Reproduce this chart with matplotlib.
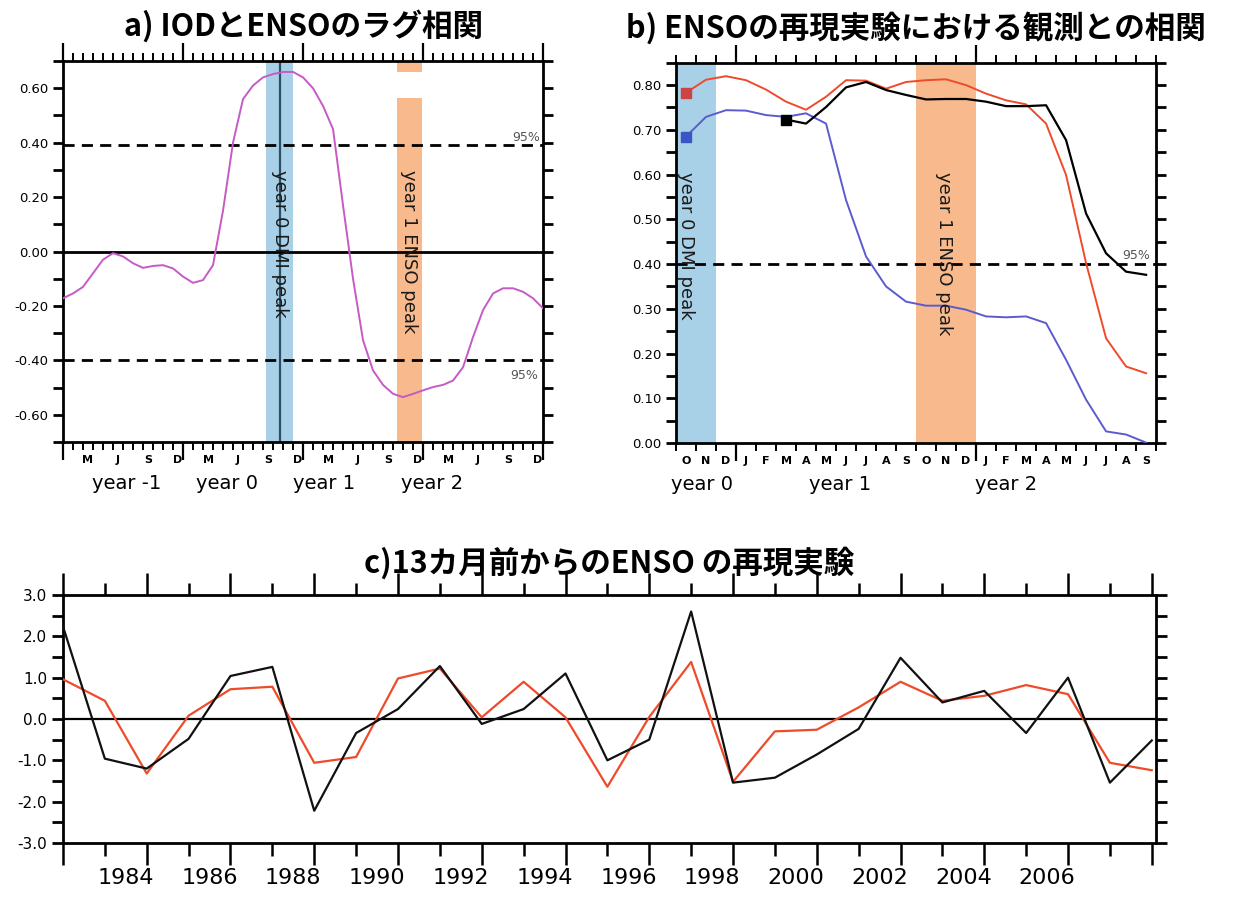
import matplotlib
matplotlib.use('Agg')
import matplotlib.pyplot as plt
from matplotlib.ticker import MultipleLocator, FixedLocator, FormatStrFormatter
from matplotlib.transforms import blended_transform_factory

plt.rcParams['font.family'] = ['DejaVu Sans']
JP = ['Noto Sans CJK JP', 'DejaVu Sans']

# ---------------- data ----------------
# Panel a: lag correlation IOD vs ENSO, monthly (Jan year -1 .. Dec year 2)
lag_month = list(range(49))
iod_enso_corr = [-0.172, -0.154, -0.13, -0.08, -0.03, -0.006, -0.018, -0.043, -0.06, -0.053,
                 -0.05, -0.062, -0.092, -0.115, -0.105, -0.05, 0.15, 0.40, 0.56, 0.61,
                 0.64, 0.652, 0.66, 0.66, 0.64, 0.60, 0.535, 0.45, 0.17, -0.10,
                 -0.326, -0.437, -0.49, -0.523, -0.535, -0.523, -0.51, -0.498, -0.49, -0.474,
                 -0.425, -0.314, -0.215, -0.154, -0.135, -0.135, -0.148, -0.172, -0.209]
a_sig_upper = 0.39
a_sig_lower = -0.40
a_month_labels = ['M', 'J', 'S', 'D'] * 4
a_year_labels = ['year -1', 'year 0', 'year 1', 'year 2']

# Panel b: correlation with observations (Oct year 0 .. Sep year 2)
b_month_labels = list('ONDJFMAMJJASONDJFMAMJJAS')
b_lead = [k + 0.5 for k in range(24)]
corr_red = [0.783, 0.812, 0.820, 0.811, 0.790, 0.763, 0.745, 0.774, 0.811, 0.810,
            0.792, 0.807, 0.811, 0.813, 0.800, 0.781, 0.766, 0.757, 0.714, 0.599,
            0.402, 0.234, 0.171, 0.156]
corr_blue = [0.685, 0.729, 0.744, 0.743, 0.733, 0.729, 0.737, 0.714, 0.543, 0.417,
             0.350, 0.316, 0.307, 0.307, 0.298, 0.283, 0.281, 0.283, 0.268, 0.186,
             0.097, 0.026, 0.019, 0.001]
corr_black = [None] * 5 + [0.723, 0.714, 0.751, 0.795, 0.807, 0.789, 0.778, 0.768, 0.769,
                           0.769, 0.763, 0.753, 0.753, 0.755, 0.677, 0.513, 0.424, 0.383, 0.376]
b_sig = 0.40
b_year_labels = ['year 0', 'year 1', 'year 2']

# Panel c: ENSO hindcast from 13 months before
years = list(range(1982, 2009))
obs_enso = [2.24, -0.96, -1.20, -0.48, 1.04, 1.26, -2.22, -0.34, 0.24, 1.28,
            -0.12, 0.24, 1.10, -1.00, -0.50, 2.60, -1.54, -1.42, -0.86, -0.24,
            1.48, 0.40, 0.68, -0.34, 1.00, -1.54, -0.52]
model_enso = [0.96, 0.44, -1.32, 0.08, 0.72, 0.78, -1.06, -0.92, 0.98, 1.22,
              0.04, 0.90, 0.04, -1.64, 0.05, 1.38, -1.52, -0.30, -0.26, 0.28,
              0.90, 0.44, 0.56, 0.82, 0.60, -1.06, -1.24]
c_year_labels = list(range(1984, 2007, 2))

# ---------------- styles ----------------
BLUE_BAND = '#a8d1e7'
ORANGE_BAND = '#f8b98c'
MAGENTA = '#c65ac6'
RED = '#ee4b2b'
SLATE = '#5b5bd0'
SPINE_W = 2.0

fig = plt.figure(figsize=(12.47, 8.99), dpi=100)


def style_spines(ax):
    for s in ax.spines.values():
        s.set_linewidth(SPINE_W)


# ================= Panel a =================
axa = fig.add_axes([0.0505, 0.5083, 0.385, 0.4238])
style_spines(axa)
axa.set_xlim(0, 48)
axa.set_ylim(-0.7, 0.7)
axa.axvspan(20.3, 23.0, color=BLUE_BAND, lw=0, zorder=0)
axa.axvspan(33.4, 35.9, ymin=0, ymax=(0.566 + 0.7) / 1.4, color=ORANGE_BAND, lw=0, zorder=0)
axa.axvspan(33.4, 35.9, ymin=(0.66 + 0.7) / 1.4, ymax=1, color=ORANGE_BAND, lw=0, zorder=0)
axa.axvline(21.7, color='#2e4d66', lw=1.6, zorder=1)
axa.axhline(0, color='black', lw=2, zorder=2)
axa.axhline(a_sig_upper, color='black', lw=2, ls=(0, (4, 2.6)), zorder=2)
axa.axhline(a_sig_lower, color='black', lw=2, ls=(0, (4, 2.6)), zorder=2)
axa.plot(lag_month, iod_enso_corr, color=MAGENTA, lw=1.4, zorder=3)
axa.text(46.3, a_sig_upper + 0.005, '95%', fontsize=9, color='#555555', ha='center', va='bottom')
axa.text(46.1, a_sig_lower - 0.03, '95%', fontsize=9, color='#555555', ha='center', va='top')
axa.text(21.7, 0.03, 'year 0 DMI peak', rotation=270, fontsize=13, color='#1a1a1a',
         ha='center', va='center')
axa.text(34.6, 0.0, 'year 1 ENSO peak', rotation=270, fontsize=13, color='#1a1a1a',
         ha='center', va='center')

axa.xaxis.set_major_locator(MultipleLocator(12))
axa.xaxis.set_minor_locator(MultipleLocator(1))
axa.tick_params(axis='x', which='major', top=True, bottom=True, direction='out',
                length=13, width=1.6, labelbottom=False)
axa.tick_params(axis='x', which='minor', top=True, bottom=True, direction='out',
                length=6, width=1.4)
axa.yaxis.set_major_locator(MultipleLocator(0.2))
axa.yaxis.set_minor_locator(MultipleLocator(0.1))
axa.yaxis.set_major_formatter(FormatStrFormatter('%.2f'))
axa.tick_params(axis='y', which='both', left=True, right=True, direction='out',
                length=7, width=2, labelsize=9.5)
ta = blended_transform_factory(axa.transData, axa.transAxes)
for i, lab in enumerate(a_month_labels):
    axa.text(3 * i + 2.5, -0.035, lab, transform=ta, ha='center', va='top',
             fontsize=8, fontweight='bold')
for lab, xpos in zip(a_year_labels, [6.4, 16.4, 26.1, 36.9]):
    axa.text(xpos, -0.085, lab, transform=ta, ha='center', va='top', fontsize=14)
axa.set_title('a) IODとENSOのラグ相関', family=JP, fontweight='bold', fontsize=22, pad=18)

# ================= Panel b =================
axb = fig.add_axes([0.5421, 0.5072, 0.385, 0.423])
style_spines(axb)
axb.set_xlim(0, 24)
axb.set_ylim(0, 0.85)
axb.axvspan(0, 2, color=BLUE_BAND, lw=0, zorder=0)
axb.axvspan(12, 15, color=ORANGE_BAND, lw=0, zorder=0)
axb.axhline(b_sig, color='black', lw=2, ls=(0, (4, 2.6)), zorder=2)
axb.plot(b_lead, corr_red, color=RED, lw=1.4, zorder=3)
axb.plot(b_lead, corr_blue, color=SLATE, lw=1.4, zorder=3)
bx = [x for x, v in zip(b_lead, corr_black) if v is not None]
by = [v for v in corr_black if v is not None]
axb.plot(bx, by, color='black', lw=1.6, zorder=4)
axb.plot([b_lead[0]], [corr_red[0]], 's', color='#cc4444', ms=7, zorder=5)
axb.plot([b_lead[0]], [corr_blue[0]], 's', color='#3b55c4', ms=7, zorder=5)
axb.plot([bx[0]], [by[0]], 's', color='black', ms=7, zorder=5)
axb.text(23.0, b_sig + 0.005, '95%', fontsize=9, color='#555555', ha='center', va='bottom')
axb.text(0.5, 0.441, 'year 0 DMI peak', rotation=270, fontsize=13, color='#1a1a1a',
         ha='center', va='center')
axb.text(13.4, 0.423, 'year 1 ENSO peak', rotation=270, fontsize=13, color='#1a1a1a',
         ha='center', va='center')
axb.xaxis.set_major_locator(FixedLocator([3, 15]))
axb.xaxis.set_minor_locator(MultipleLocator(1))
axb.tick_params(axis='x', which='major', top=True, bottom=True, direction='out',
                length=13, width=1.6, labelbottom=False)
axb.tick_params(axis='x', which='minor', top=True, bottom=True, direction='out',
                length=6, width=1.4)
axb.yaxis.set_major_locator(MultipleLocator(0.1))
axb.yaxis.set_minor_locator(MultipleLocator(0.05))
axb.yaxis.set_major_formatter(FormatStrFormatter('%.2f'))
axb.tick_params(axis='y', which='both', left=True, right=True, direction='out',
                length=7, width=2, labelsize=9.5)
tb = blended_transform_factory(axb.transData, axb.transAxes)
for i, lab in enumerate(b_month_labels):
    axb.text(i + 0.5, -0.035, lab, transform=tb, ha='center', va='top',
             fontsize=8, fontweight='bold')
for lab, xpos in zip(b_year_labels, [1.3, 8.2, 16.5]):
    axb.text(xpos, -0.085, lab, transform=tb, ha='center', va='top', fontsize=14)
axb.set_title('b) ENSOの再現実験における観測との相関', family=JP, fontweight='bold',
              fontsize=22, pad=18)

# ================= Panel c =================
axc = fig.add_axes([0.0505, 0.0623, 0.8765, 0.2759])
style_spines(axc)
axc.set_xlim(1982, 2008.1)
axc.set_ylim(-3, 3)
axc.axhline(0, color='black', lw=1.6, zorder=2)
axc.plot(years, model_enso, color=RED, lw=1.6, zorder=3)
axc.plot(years, obs_enso, color='#111111', lw=1.6, zorder=4)
axc.xaxis.set_major_locator(MultipleLocator(2))
axc.xaxis.set_minor_locator(MultipleLocator(1))
axc.tick_params(axis='x', which='major', top=True, bottom=True, direction='out',
                length=16, width=1.8, labelbottom=False)
axc.tick_params(axis='x', which='minor', top=True, bottom=True, direction='out',
                length=9, width=1.8)
axc.yaxis.set_major_locator(MultipleLocator(1))
axc.yaxis.set_minor_locator(MultipleLocator(0.5))
axc.yaxis.set_major_formatter(FormatStrFormatter('%.1f'))
axc.tick_params(axis='y', which='both', left=True, right=True, direction='out',
                length=8, width=2, labelsize=11)
tc = blended_transform_factory(axc.transData, axc.transAxes)
for yr in c_year_labels:
    axc.text(yr - 0.5, -0.1, str(yr), transform=tc, ha='center', va='top', fontsize=16)
axc.set_title('c)13カ月前からのENSO の再現実験', family=JP, fontweight='bold',
              fontsize=22, pad=16)

fig.savefig('out.png', dpi=100)
